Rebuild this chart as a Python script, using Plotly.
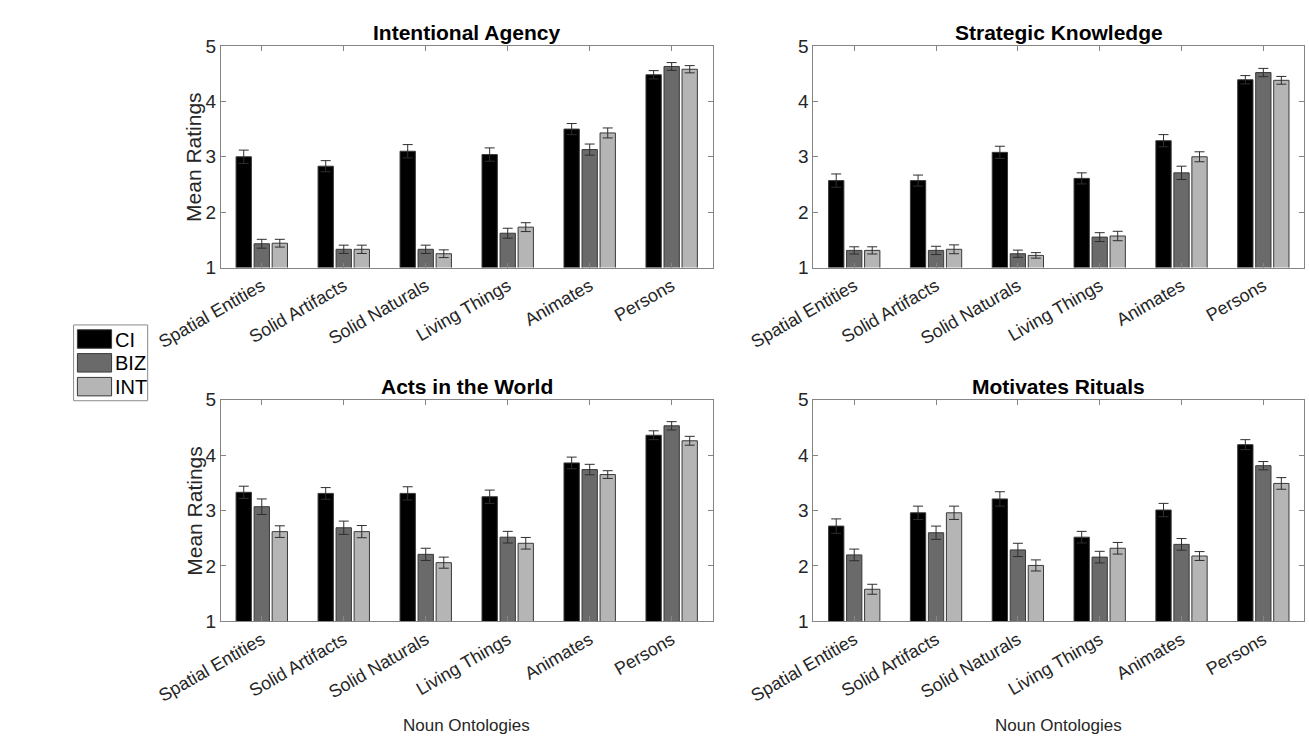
import plotly.graph_objects as go

# ---- data -------------------------------------------------------------
categories = ["Spatial Entities", "Solid Artifacts", "Solid Naturals",
              "Living Things", "Animates", "Persons"]
groups = ["CI", "BIZ", "INT"]
group_colors = ["#000000", "#6a6a6a", "#b5b5b5"]
panel_titles = ["Intentional Agency", "Strategic Knowledge",
                "Acts in the World", "Motivates Rituals"]
y_ticks = [1, 2, 3, 4, 5]

# Intentional Agency
ia_ci = [3.00, 2.83, 3.10, 3.04, 3.50, 4.48]
ia_biz = [1.43, 1.33, 1.33, 1.62, 3.13, 4.63]
ia_int = [1.44, 1.33, 1.25, 1.73, 3.43, 4.58]
ia_ci_err = [0.12, 0.10, 0.12, 0.12, 0.10, 0.075]
ia_biz_err = [0.08, 0.075, 0.075, 0.09, 0.10, 0.07]
ia_int_err = [0.07, 0.075, 0.07, 0.08, 0.09, 0.065]

# Strategic Knowledge
sk_ci = [2.57, 2.57, 3.08, 2.61, 3.29, 4.39]
sk_biz = [1.31, 1.31, 1.25, 1.55, 2.71, 4.52]
sk_int = [1.31, 1.33, 1.22, 1.57, 3.00, 4.38]
sk_ci_err = [0.12, 0.10, 0.11, 0.10, 0.11, 0.075]
sk_biz_err = [0.065, 0.075, 0.065, 0.08, 0.12, 0.075]
sk_int_err = [0.065, 0.08, 0.05, 0.085, 0.09, 0.07]

# Acts in the World
aw_ci = [3.33, 3.31, 3.31, 3.25, 3.86, 4.36]
aw_biz = [3.07, 2.69, 2.21, 2.52, 3.74, 4.53]
aw_int = [2.62, 2.62, 2.06, 2.41, 3.65, 4.26]
aw_ci_err = [0.11, 0.105, 0.12, 0.12, 0.105, 0.08]
aw_biz_err = [0.14, 0.12, 0.11, 0.105, 0.095, 0.075]
aw_int_err = [0.105, 0.11, 0.10, 0.105, 0.07, 0.08]

# Motivates Rituals
mr_ci = [2.72, 2.96, 3.21, 2.52, 3.01, 4.19]
mr_biz = [2.20, 2.60, 2.29, 2.16, 2.39, 3.81]
mr_int = [1.58, 2.96, 2.01, 2.32, 2.18, 3.49]
mr_ci_err = [0.13, 0.12, 0.13, 0.105, 0.12, 0.09]
mr_biz_err = [0.105, 0.12, 0.12, 0.105, 0.105, 0.075]
mr_int_err = [0.09, 0.12, 0.10, 0.105, 0.08, 0.105]

panels = [
    ([ia_ci, ia_biz, ia_int], [ia_ci_err, ia_biz_err, ia_int_err]),
    ([sk_ci, sk_biz, sk_int], [sk_ci_err, sk_biz_err, sk_int_err]),
    ([aw_ci, aw_biz, aw_int], [aw_ci_err, aw_biz_err, aw_int_err]),
    ([mr_ci, mr_biz, mr_int], [mr_ci_err, mr_biz_err, mr_int_err]),
]

# ---- layout geometry (pixels) -----------------------------------------
W, H = 1309, 750
boxes = [(163, 681, 37, 265), (787, 1304, 37, 265),
         (163, 681, 401, 629), (787, 1304, 401, 629)]

FONT = "Liberation Sans, Arial, Helvetica, sans-serif"
TXT = "#262626"
AXC = "#858585"


def px(x):
    return x / W


def py(y):
    return 1 - y / H


fig = go.Figure()
layout = dict(
    width=W, height=H,
    margin=dict(l=0, r=0, t=0, b=0),
    paper_bgcolor="white", plot_bgcolor="white",
    barmode="group", bargap=0.34, bargroupgap=0.15,
    showlegend=False,
    font=dict(family=FONT, color=TXT),
)

annotations = []
shapes = []

for i, ((vals, errs), (x0, x1, y0, y1)) in enumerate(zip(panels, boxes)):
    n = "" if i == 0 else str(i + 1)
    for g, (v, e) in enumerate(zip(vals, errs)):
        fig.add_trace(go.Bar(
            x=categories, y=v, name=groups[g],
            marker=dict(color=group_colors[g],
                        line=dict(color="#3a3a3a", width=1)),
            error_y=dict(type="data", array=e, color="#2e2e2e",
                         thickness=1, width=5),
            xaxis="x" + n, yaxis="y" + n,
            offsetgroup=str(g),
        ))
    layout["xaxis" + n] = dict(
        domain=[px(x0), px(x1)], anchor="y" + n,
        type="category", range=[-0.5, 5.5],
        showline=True, linecolor=AXC, linewidth=1, mirror="ticks",
        ticks="inside", ticklen=5, tickcolor=AXC,
        tickangle=-30, tickfont=dict(size=18, color=TXT, family=FONT),
        showgrid=False, zeroline=False,
    )
    layout["yaxis" + n] = dict(
        domain=[py(y1), py(y0)], anchor="x" + n,
        range=[1, 5], tickvals=y_ticks,
        showline=True, linecolor=AXC, linewidth=1, mirror="ticks",
        ticks="inside", ticklen=5, tickcolor=AXC,
        tickfont=dict(size=19, color=TXT, family=FONT),
        showgrid=False, zeroline=False,
    )
    cx = px((x0 + x1) / 2)
    annotations.append(dict(
        text="<b>%s</b>" % panel_titles[i], x=cx, y=py(y0 - 14),
        xref="paper", yref="paper", showarrow=False,
        xanchor="center", yanchor="middle",
        font=dict(size=21, color="#000000", family=FONT)))
    if i % 2 == 0:
        annotations.append(dict(
            text="Mean Ratings", x=px(135), y=py((y0 + y1) / 2),
            xref="paper", yref="paper", showarrow=False, textangle=-90,
            xanchor="center", yanchor="middle",
            font=dict(size=21, color=TXT, family=FONT)))
    if i >= 2:
        annotations.append(dict(
            text="Noun Ontologies", x=cx, y=py(736),
            xref="paper", yref="paper", showarrow=False,
            xanchor="center", yanchor="middle",
            font=dict(size=17, color=TXT, family=FONT)))

# legend box with large swatches
shapes.append(dict(type="rect", xref="paper", yref="paper",
                   x0=px(8), x1=px(86), y0=py(402), y1=py(324),
                   line=dict(color="#8a8a8a", width=1), fillcolor="white"))
for g, name in enumerate(groups):
    top = 329 + g * 24.5
    shapes.append(dict(type="rect", xref="paper", yref="paper",
                       x0=px(12), x1=px(48), y0=py(top + 19), y1=py(top),
                       line=dict(color="#3a3a3a", width=1),
                       fillcolor=group_colors[g]))
    annotations.append(dict(
        text=name, x=px(50), y=py(top + 10), xref="paper", yref="paper",
        showarrow=False, xanchor="left", yanchor="middle",
        font=dict(size=20, color="#000000", family=FONT)))

layout["annotations"] = annotations
layout["shapes"] = shapes
fig.update_layout(**layout)
fig.write_html("out.html")
